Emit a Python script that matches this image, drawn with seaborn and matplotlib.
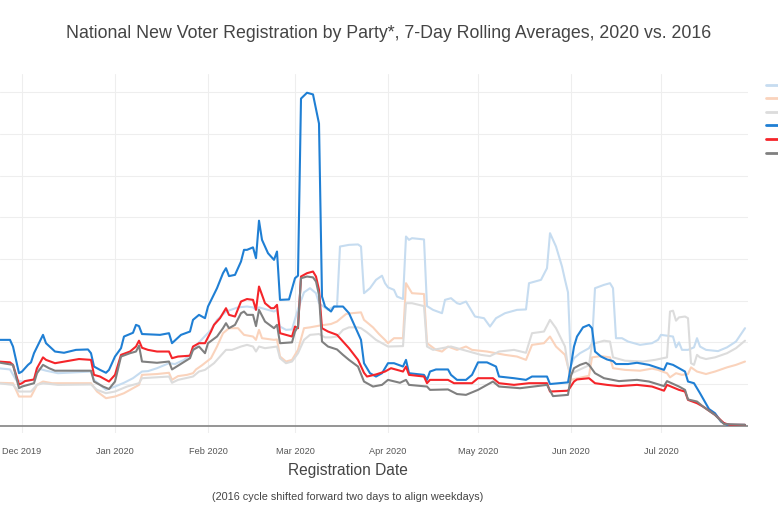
import matplotlib
matplotlib.use("Agg")
import matplotlib.pyplot as plt
import matplotlib.dates as mdates
import pandas as pd
import seaborn as sns

# ---------------- data (7-day rolling averages, thousands; day = days since 2019-12-01) -------------
ORIGIN = "2019-12-01"
series_names = ["Democrats 2016", "Republicans 2016", "Other 2016",
                "Democrats 2020", "Republicans 2020", "Other 2020"]
series_colors = ["#c6dcf0", "#fad3bc", "#dcdcdc", "#1f7fd4", "#f5252a", "#808080"]

dem16 = [(-8, 1.38), (-4, 1.35), (-2, 1.10), (0, 1.06), (4, 1.10), (5, 1.38), (8, 1.32), (12, 1.26),
         (23, 1.30), (24, 1.10), (28, 0.86), (31, 0.94), (34, 1.03), (37, 1.14), (40, 1.30), (42, 1.31),
         (45, 1.38), (49, 1.50), (51, 1.48), (54, 1.58), (56, 1.70), (59, 2.00), (63, 2.30), (65, 2.54),
         (68, 2.74), (72, 2.84), (75, 2.86), (77, 2.84), (78, 2.78), (79, 2.84), (82, 2.78), (84, 2.74),
         (85, 2.78), (86, 2.38), (88, 2.30), (90, 2.31), (92, 2.80), (94, 3.20), (96, 3.30), (98, 3.18),
         (99, 2.94), (102, 2.78), (104, 2.86), (105, 2.86), (106, 4.30), (109, 4.34), (112, 4.35),
         (113, 4.30), (114, 3.18), (116, 3.30), (118, 3.50), (120, 3.60), (121, 3.42), (122, 3.32),
         (124, 3.26), (125, 3.10), (127, 3.04), (128, 4.54), (129, 4.46), (130, 4.50), (134, 4.47),
         (135, 2.87), (137, 2.78), (140, 2.70), (141, 3.02), (143, 3.06), (145, 2.94), (146, 2.92),
         (148, 2.98), (150, 2.74), (151, 2.62), (154, 2.58), (156, 2.38), (158, 2.58), (161, 2.70),
         (165, 2.78), (168, 2.79), (169, 3.42), (173, 3.50), (175, 3.78), (176, 4.62), (178, 4.30),
         (180, 3.82), (181, 3.50), (182, 3.20), (183, 1.45), (184, 1.62), (186, 1.74), (189, 1.86),
         (190, 1.98), (191, 3.30), (194, 3.38), (196, 3.42), (197, 3.30), (198, 2.10), (200, 2.10),
         (202, 2.02), (206, 1.94), (210, 1.98), (212, 2.06), (213, 2.18), (215, 2.16), (217, 2.14),
         (218, 1.88), (219, 2.00), (220, 1.82), (222, 1.82), (224, 1.88), (225, 2.10), (226, 1.90),
         (228, 1.82), (232, 1.79), (235, 1.88), (238, 2.02), (241, 2.34)]

rep16 = [(-8, 1.03), (-3, 1.02), (-1, 0.70), (3, 0.70), (5, 0.98), (7, 1.06), (10, 1.02), (23, 1.02),
         (25, 0.82), (28, 0.66), (31, 0.70), (34, 0.78), (37, 0.90), (39, 0.98), (40, 1.22), (45, 1.24),
         (49, 1.27), (50, 1.10), (52, 1.19), (55, 1.22), (57, 1.26), (58, 1.35), (60, 1.45), (63, 1.62),
         (65, 1.90), (67, 2.22), (69, 2.34), (72, 2.34), (74, 2.18), (77, 2.14), (78, 2.06), (79, 2.30),
         (80, 2.10), (84, 2.06), (85, 2.07), (86, 1.66), (88, 1.54), (90, 1.58), (92, 1.82), (94, 2.34),
         (96, 2.36), (99, 2.40), (101, 2.42), (103, 2.44), (105, 2.50), (108, 2.68), (110, 2.70),
         (113, 2.72), (114, 2.54), (117, 2.36), (119, 2.20), (121, 2.06), (122, 1.98), (124, 2.10),
         (127, 2.10), (128, 3.42), (129, 3.30), (130, 3.18), (134, 3.16), (135, 1.98), (138, 1.82),
         (140, 1.78), (142, 1.90), (145, 1.82), (148, 1.90), (150, 1.82), (155, 1.78), (158, 1.74),
         (161, 1.70), (165, 1.66), (168, 1.58), (170, 1.94), (174, 1.98), (176, 2.14), (178, 1.90),
         (181, 1.70), (182, 1.42), (183, 1.10), (186, 1.15), (189, 1.20), (190, 1.64), (193, 1.67),
         (196, 1.64), (197, 1.38), (201, 1.34), (206, 1.32), (210, 1.37), (212, 1.34), (215, 1.26),
         (216, 1.16), (218, 1.26), (220, 1.22), (222, 1.24), (223, 1.40), (225, 1.30), (228, 1.24),
         (231, 1.30), (235, 1.40), (238, 1.46), (241, 1.54)]

oth16 = [(-8, 1.02), (-3, 0.98), (-1, 0.82), (3, 0.82), (5, 0.98), (7, 1.02), (12, 0.98), (23, 0.99),
         (25, 0.86), (28, 0.78), (31, 0.82), (35, 0.94), (39, 1.02), (40, 1.14), (49, 1.18), (50, 1.03),
         (52, 1.10), (57, 1.18), (59, 1.30), (61, 1.34), (64, 1.50), (66, 1.66), (68, 1.82), (70, 1.82),
         (73, 1.90), (75, 1.94), (77, 1.90), (78, 1.78), (79, 1.90), (81, 1.86), (85, 1.90), (86, 1.62),
         (88, 1.50), (90, 1.54), (92, 1.74), (94, 2.06), (96, 2.18), (99, 2.20), (101, 2.12), (103, 2.12),
         (105, 2.14), (107, 2.30), (109, 2.36), (112, 2.36), (113, 2.34), (115, 2.24), (118, 2.06),
         (120, 1.98), (122, 1.90), (127, 1.91), (128, 2.94), (130, 2.94), (134, 2.87), (135, 1.90),
         (137, 1.82), (140, 1.86), (143, 1.90), (147, 1.82), (153, 1.70), (156, 1.67), (159, 1.78),
         (164, 1.82), (168, 1.75), (170, 2.22), (174, 2.26), (176, 2.54), (178, 2.34), (181, 1.90),
         (182, 1.42), (183, 1.25), (186, 1.35), (189, 1.45), (190, 1.96), (194, 2.04), (196, 2.02),
         (197, 1.64), (201, 1.56), (207, 1.54), (211, 1.58), (215, 1.64), (216, 2.74), (217, 2.76),
         (218, 2.52), (219, 2.60), (221, 2.62), (222, 2.58), (223, 1.50), (224, 1.46), (225, 1.70),
         (226, 1.64), (228, 1.60), (231, 1.64), (235, 1.74), (238, 1.86), (241, 2.04)]

dem20 = [(-8, 2.06), (-4, 2.06), (-3, 1.90), (-1, 1.26), (0, 1.30), (2, 1.46), (3, 1.52), (4, 1.74),
         (7, 2.18), (8, 1.98), (11, 1.78), (14, 1.75), (18, 1.82), (22, 1.83), (23, 1.74), (24, 1.42),
         (26, 1.34), (28, 1.27), (29, 1.34), (31, 1.66), (33, 1.86), (34, 2.14), (37, 2.23), (38, 2.42),
         (39, 2.39), (40, 2.20), (46, 2.18), (49, 2.22), (50, 1.98), (53, 2.18), (56, 2.26), (57, 2.54),
         (59, 2.66), (61, 2.58), (62, 2.86), (65, 3.30), (67, 3.66), (68, 3.78), (69, 3.59), (71, 3.62),
         (73, 3.94), (74, 4.22), (75, 4.22), (77, 4.28), (78, 4.02), (79, 4.92), (80, 4.46), (82, 4.14),
         (84, 3.98), (85, 4.18), (86, 3.02), (89, 3.03), (91, 3.54), (92, 3.60), (93, 7.85), (95, 7.99),
         (97, 7.95), (98, 7.60), (99, 7.25), (100, 3.10), (101, 2.86), (103, 2.74), (104, 2.86),
         (107, 2.86), (109, 2.70), (111, 2.38), (113, 2.06), (114, 1.50), (116, 1.26), (118, 1.18),
         (120, 1.26), (122, 1.50), (124, 1.50), (127, 1.42), (128, 1.58), (129, 1.26), (134, 1.22),
         (135, 1.10), (136, 1.30), (138, 1.35), (142, 1.35), (143, 1.22), (145, 1.10), (148, 1.10),
         (150, 1.22), (152, 1.52), (155, 1.52), (158, 1.42), (159, 1.18), (164, 1.14), (168, 1.10),
         (170, 1.18), (175, 1.18), (176, 1.00), (182, 1.04), (183, 1.45), (184, 1.90), (185, 2.14),
         (187, 2.36), (189, 2.42), (190, 2.34), (191, 1.78), (193, 1.66), (195, 1.59), (197, 1.55),
         (198, 1.48), (202, 1.48), (205, 1.51), (209, 1.46), (214, 1.34), (215, 1.50), (217, 1.46),
         (219, 1.38), (221, 1.30), (222, 1.06), (224, 1.02), (226, 0.78), (229, 0.40), (231, 0.30),
         (233, 0.10), (235, 0.02), (241, 0.02)]

rep20 = [(-8, 1.54), (-4, 1.52), (-3, 1.46), (-1, 0.99), (0, 1.02), (1, 1.07), (4, 1.11), (5, 1.38),
         (7, 1.64), (8, 1.58), (11, 1.50), (15, 1.55), (19, 1.60), (23, 1.58), (24, 1.22), (26, 1.18),
         (29, 1.06), (31, 1.22), (33, 1.70), (36, 1.78), (38, 1.90), (39, 2.04), (40, 1.87), (42, 1.82),
         (45, 1.78), (49, 1.78), (50, 1.62), (52, 1.66), (56, 1.68), (57, 1.90), (59, 1.98), (61, 1.98),
         (63, 2.26), (64, 2.42), (66, 2.58), (68, 2.82), (69, 2.66), (71, 2.62), (73, 2.98), (75, 3.04),
         (77, 3.02), (78, 2.78), (79, 3.34), (81, 2.94), (83, 2.82), (84, 2.82), (85, 2.90), (86, 2.22),
         (88, 2.18), (90, 2.14), (91, 2.38), (92, 2.34), (93, 3.58), (95, 3.66), (97, 3.70), (98, 3.58),
         (99, 3.26), (100, 2.34), (102, 2.26), (105, 2.18), (107, 2.02), (109, 1.86), (112, 1.58),
         (114, 1.27), (115, 1.18), (118, 1.23), (121, 1.30), (123, 1.38), (127, 1.30), (128, 1.42),
         (129, 1.22), (134, 1.18), (135, 1.02), (136, 1.10), (142, 1.10), (144, 1.02), (150, 1.02),
         (152, 1.14), (157, 1.14), (159, 1.02), (164, 0.98), (169, 1.02), (175, 1.02), (176, 0.82),
         (182, 0.84), (184, 1.06), (185, 1.11), (189, 1.14), (191, 1.02), (195, 0.98), (199, 0.95),
         (205, 0.98), (210, 0.94), (214, 0.84), (215, 0.98), (219, 0.86), (221, 0.82), (222, 0.62),
         (225, 0.54), (227, 0.46), (231, 0.26), (234, 0.06), (236, 0.02), (241, 0.02)]

oth20 = [(-8, 1.52), (-3, 1.46), (-1, 0.90), (0, 0.94), (4, 1.02), (5, 1.26), (7, 1.46), (9, 1.38),
         (11, 1.32), (23, 1.32), (24, 1.06), (27, 0.94), (29, 0.88), (31, 1.06), (33, 1.66), (36, 1.74),
         (38, 1.78), (39, 1.92), (40, 1.54), (45, 1.51), (49, 1.54), (50, 1.35), (52, 1.44), (56, 1.62),
         (57, 1.82), (59, 1.90), (61, 1.74), (62, 1.98), (65, 2.14), (67, 2.34), (68, 2.46), (69, 2.34),
         (71, 2.42), (73, 2.70), (74, 2.74), (75, 2.66), (77, 2.66), (78, 2.39), (79, 2.78), (81, 2.50),
         (84, 2.34), (85, 2.42), (86, 1.98), (90, 2.00), (91, 2.26), (92, 2.38), (93, 3.54), (95, 3.58),
         (97, 3.56), (98, 3.46), (99, 3.14), (100, 2.02), (102, 1.90), (105, 1.83), (107, 1.70),
         (109, 1.58), (112, 1.42), (114, 1.06), (117, 0.94), (120, 0.98), (122, 1.10), (126, 1.03),
         (128, 1.10), (129, 0.98), (135, 0.94), (136, 0.86), (142, 0.87), (145, 0.76), (148, 0.74),
         (152, 0.86), (157, 1.06), (159, 0.94), (166, 0.90), (175, 0.98), (177, 0.71), (182, 0.74),
         (183, 1.20), (184, 1.38), (186, 1.46), (188, 1.51), (189, 1.46), (191, 1.26), (194, 1.14),
         (199, 1.07), (205, 1.10), (209, 1.06), (214, 0.95), (215, 1.07), (219, 0.94), (221, 0.86),
         (222, 0.63), (225, 0.58), (227, 0.46), (231, 0.26), (234, 0.04), (241, 0.02)]

month_ticks = ["2019-12-01", "2020-01-01", "2020-02-01", "2020-03-01",
               "2020-04-01", "2020-05-01", "2020-06-01", "2020-07-01"]

title_text = "National New Voter Registration by Party*, 7-Day Rolling Averages, 2020 vs. 2016"
xlabel_text = "Registration Date"
note_text = "(2016 cycle shifted forward two days to align weekdays)"

# ---------------- build long table -------------
origin = pd.Timestamp(ORIGIN)
frames = []
for name, pts in zip(series_names, [dem16, rep16, oth16, dem20, rep20, oth20]):
    days = [p[0] for p in pts]
    vals = [p[1] for p in pts]
    frames.append(pd.DataFrame({
        "date": origin + pd.to_timedelta(days, unit="D"),
        "value": vals,
        "series": name,
    }))
df = pd.concat(frames, ignore_index=True)

# ---------------- figure -------------
sns.set_theme(style="white")
plt.rcParams["font.family"] = ["Liberation Sans", "DejaVu Sans"]

W, H = 778, 518
fig = plt.figure(figsize=(W / 100, H / 100), dpi=100)
ax_left, ax_right, ax_top, ax_bot = 0, 748, 74, 433
ax = fig.add_axes([ax_left / W, 1 - ax_bot / H, (ax_right - ax_left) / W, (ax_bot - ax_top) / H])

# grid + zero line (plotly-like)
for m in month_ticks:
    ax.axvline(pd.Timestamp(m), color="#eeeeee", lw=0.75, zorder=0)
for g in range(1, 9):
    ax.axhline(g, color="#eeeeee", lw=0.75, zorder=0)
ax.axhline(0, color="#8c8c8c", lw=1.3, zorder=1)

sns.lineplot(data=df, x="date", y="value", hue="series", hue_order=series_names,
             palette=dict(zip(series_names, series_colors)), estimator=None, sort=False,
             linewidth=1.5, ax=ax, legend=True)

ax.set_xlim(origin - pd.Timedelta(days=22 / 3), origin + pd.Timedelta(days=(ax_right - 22) / 3))
ax.set_ylim(-0.175, 8.44)
ax.set_yticks(range(0, 9))
ax.set_yticklabels([])
ax.set_xticks([pd.Timestamp(m) for m in month_ticks])
ax.xaxis.set_major_formatter(mdates.DateFormatter("%b %Y"))
ax.tick_params(axis="x", length=0, pad=10, labelsize=6.6, labelcolor="#555555")
ax.tick_params(axis="y", length=0)
ax.set_xlabel("")
ax.set_ylabel("")
for s in ax.spines.values():
    s.set_visible(False)

# legend: only the line samples are visible at the right edge (labels fall outside the frame)
handles, _ = ax.get_legend_handles_labels()
leg = ax.legend(handles, [""] * len(handles), loc="upper left", bbox_to_anchor=(766 / W, 1 - 80.5 / H),
                bbox_transform=fig.transFigure, frameon=False, fontsize=7.5,
                handlelength=3.0, labelspacing=0.34, borderaxespad=0, borderpad=0)
for line in leg.get_lines():
    line.set_linewidth(2.0)

fig.text(389 / W, 1 - 33 / H, title_text, ha="center", va="center", fontsize=12.8, color="#444444")
fig.text(348 / W, 1 - 470 / H, xlabel_text, ha="center", va="center", fontsize=11.2, color="#444444")
fig.text(348 / W, 1 - 497 / H, note_text, ha="center", va="center", fontsize=7.8, color="#444444")

fig.savefig("out.png", dpi=100)
